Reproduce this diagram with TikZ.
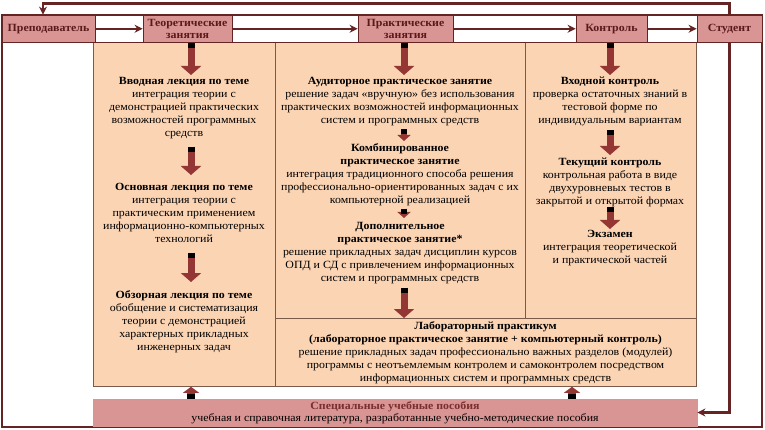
\documentclass[tikz,border=0pt]{standalone}
\usepackage{fontspec}
\setmainfont{Liberation Serif}[FakeStretch=1.08]
\usepackage{xcolor}
\usetikzlibrary{arrows.meta,positioning}

\definecolor{maroon}{HTML}{632423}
\definecolor{rose}{HTML}{D99594}
\definecolor{peach}{HTML}{FBD4B4}
\definecolor{panelline}{HTML}{7A5A48}
\definecolor{arrowred}{HTML}{943634}
\definecolor{headtext}{HTML}{5A1A1A}
\definecolor{titlered}{HTML}{7A2E2E}

\begin{document}
\begin{tikzpicture}[x=1pt, y=-1pt,
    every node/.style={font=\fontsize{11}{13}\selectfont},
    hbox/.style={rectangle, draw=maroon, fill=rose, line width=0.8pt, inner sep=0pt,
        minimum height=27.5pt, align=center, text=headtext,
        font=\fontsize{11}{11.5}\selectfont\bfseries},
    panel/.style={rectangle, draw=panelline, fill=peach, line width=0.8pt,
        anchor=north west, inner sep=0pt},
    txt/.style={align=center, inner sep=0pt, anchor=north},
    flow/.style={draw=maroon, line width=2.2pt, -{Stealth[length=8pt, width=8pt]}},
    bigarr/.style={draw=arrowred, line width=7pt, -{Triangle[length=9pt, width=20pt]},
        postaction={draw=black, -, dash pattern=on 5pt off 500pt}},
    smallarr/.style={bigarr, line width=6pt, -{Triangle[length=6pt, width=13pt]}},
    uparr/.style={bigarr, line width=8pt, -{Triangle[length=6pt, width=16pt]}}
]
\fill[white] (0,0) rectangle (765,430);
\useasboundingbox (0,0) rectangle (765,430);

\node[panel, minimum width=182pt, minimum height=343.5pt] (theorypanel) at (93,42.5) {};
\node[panel, minimum width=250pt, minimum height=275.5pt] (practpanel) at (275,42.5) {};
\node[panel, minimum width=171pt, minimum height=275.5pt] (controlpanel) at (525,42.5) {};
\node[panel, minimum width=421pt, minimum height=68pt] (labpanel) at (275,318) {};

\draw[maroon, line width=1.8pt] (2,42.5) -- (762,42.5);
\draw[maroon, line width=2.2pt] (2,15) rectangle (762,427);

\node[hbox, minimum width=93pt] (teacher) at (48.5,28.75) {Преподаватель};
\node[hbox, minimum width=89pt] (theoryhd) at (187.5,28.75) {Теоретические\\занятия};
\node[hbox, minimum width=95pt] (practhd) at (405.5,28.75) {Практические\\занятия};
\node[hbox, minimum width=71pt] (controlhd) at (611.5,28.75) {Контроль};
\node[hbox, minimum width=65pt] (studenthd) at (729.5,28.75) {Студент};
\node[hbox, draw=rose, minimum width=604pt, minimum height=27pt, text=black,
    font=\fontsize{11}{12}\selectfont] (manuals) at (395,412.5)
    {\textcolor{titlered}{\textbf{Специальные учебные пособия}}\\учебная и справочная литература, разработанные учебно-методические пособия};

\node[txt] (intro) at (184,77) {\textbf{Вводная лекция по теме}\\интеграция теории с\\демонстрацией практических\\возможностей программных\\средств};
\node[txt] (basic) at (184,183) {\textbf{Основная лекция по теме}\\интеграция теории с\\практическим применением\\информационно-компьютерных\\технологий};
\node[txt] (review) at (184,290) {\textbf{Обзорная лекция по теме}\\обобщение и систематизация\\теории с демонстрацией\\характерных прикладных\\инженерных задач};
\node[txt] (class) at (400,77) {\textbf{Аудиторное практическое занятие}\\решение задач «вручную» без использования\\практических возможностей информационных\\систем и программных средств};
\node[txt] (combined) at (400,143) {\textbf{Комбинированное}\\\textbf{практическое занятие}\\интеграция традиционного способа решения\\профессионально-ориентированных задач с их\\компьютерной реализацией};
\node[txt] (extra) at (400,222) {\textbf{Дополнительное}\\\textbf{практическое занятие*}\\решение прикладных задач дисциплин курсов\\ОПД и СД с привлечением информационных\\систем и программных средств};
\node[txt] (entry) at (610,77) {\textbf{Входной контроль}\\проверка остаточных знаний в\\тестовой форме по\\индивидуальным вариантам};
\node[txt] (current) at (610,158) {\textbf{Текущий контроль}\\контрольная работа в виде\\двухуровневых тестов в\\закрытой и открытой формах};
\node[txt] (exam) at (610,230) {\textbf{Экзамен}\\интеграция теоретической\\и практической частей};
\node[txt] (lab) at (485.5,321) {\textbf{Лабораторный практикум}\\\textbf{(лабораторное практическое занятие + компьютерный контроль)}\\решение прикладных задач профессионально важных разделов (модулей)\\программы с неотъемлемым контролем и самоконтролем посредством\\информационных систем и программных средств};

\coordinate (tcol) at (191,0);
\coordinate (pcol) at (404,0);
\coordinate (ccol) at (610,0);
\coordinate (lcol) at (572,0);

\draw[bigarr, shorten >=2pt] (tcol |- theoryhd.south) -- (tcol |- intro.north);
\draw[bigarr, shorten <=8pt, shorten >=8pt] (tcol |- intro.south) -- (tcol |- basic.north);
\draw[bigarr, shorten <=10pt, shorten >=8pt] (tcol |- basic.south) -- (tcol |- review.north);
\draw[bigarr, shorten >=2pt] (pcol |- practhd.south) -- (pcol |- class.north);
\draw[smallarr, shorten <=3pt, shorten >=2pt] (pcol |- class.south) -- (pcol |- combined.north);
\draw[smallarr, shorten <=3pt, shorten >=4pt] (pcol |- combined.south) -- (pcol |- extra.north);
\draw[bigarr, shorten <=4pt] (pcol |- extra.south) -- (pcol |- labpanel.north);
\draw[bigarr, shorten >=2pt] (ccol |- controlhd.south) -- (ccol |- entry.north);
\draw[bigarr, shorten <=4pt, shorten >=3pt] (ccol |- entry.south) -- (ccol |- current.north);
\draw[bigarr, shorten >=1pt] (ccol |- current.south) -- (ccol |- exam.north);
\draw[uparr] (tcol |- manuals.north) -- (tcol |- theorypanel.south);
\draw[uparr] (lcol |- manuals.north) -- (lcol |- labpanel.south);

\draw[flow] (teacher) -- (theoryhd);
\draw[flow] (theoryhd) -- (practhd);
\draw[flow] (practhd) -- (controlhd);
\draw[flow] (controlhd) -- (studenthd);
\draw[flow] (studenthd.north) |- ([xshift=-5.5pt, yshift=11pt]teacher.north) -- ([xshift=-5.5pt]teacher.north);
\draw[flow] (studenthd.south) |- (manuals.east);
\end{tikzpicture}
\end{document}
